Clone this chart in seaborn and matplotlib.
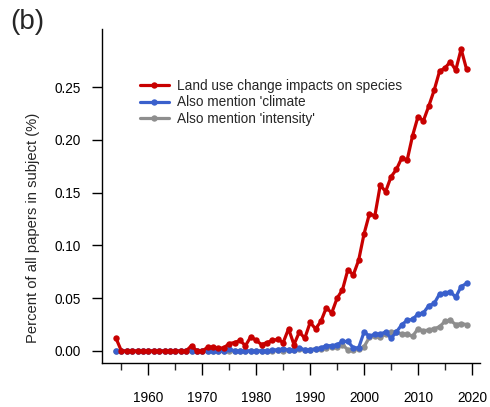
import matplotlib
matplotlib.use("Agg")
import matplotlib.pyplot as plt
import seaborn as sns
import pandas as pd
import numpy as np
from matplotlib.ticker import FixedLocator

years = list(range(1954, 2020))

land_use = [0.012, 0, 0, 0, 0, 0, 0, 0, 0, 0, 0, 0, 0, 0,
            0.005, 0.0, 0.0, 0.0035, 0.0035, 0.0025, 0.003, 0.007, 0.008, 0.010,
            0.005, 0.0135, 0.010, 0.006, 0.008, 0.010, 0.011, 0.008,
            0.021, 0.006, 0.018, 0.012, 0.027, 0.021, 0.028, 0.041, 0.036,
            0.050, 0.058, 0.077, 0.072, 0.086, 0.111, 0.130, 0.128, 0.157,
            0.151, 0.165, 0.172, 0.183, 0.181, 0.204, 0.222, 0.218, 0.232,
            0.247, 0.265, 0.268, 0.274, 0.266, 0.286, 0.267]

climate = [0, 0, 0, 0, 0, 0, 0, 0, 0, 0, 0, 0, 0, 0,
           0, 0, 0, 0, 0, 0, 0, 0.002, 0, 0, 0, 0, 0, 0, 0, 0.001,
           0.001, 0.002, 0.001, 0.001, 0.003, 0.001, 0.001, 0.002, 0.003,
           0.005, 0.005, 0.006, 0.009, 0.009, 0.003, 0.003,
           0.018, 0.014, 0.016, 0.016, 0.018, 0.012, 0.018, 0.025, 0.029,
           0.030, 0.035, 0.036, 0.043, 0.045, 0.054, 0.055, 0.056, 0.051,
           0.061, 0.064]

intensity = [0, 0, 0, 0, 0, 0, 0, 0, 0, 0, 0, 0, 0, 0,
             0, 0, 0, 0, 0, 0, 0, 0, 0, 0, 0, 0, 0, 0, 0, 0,
             0.001, 0.0, 0.001, 0.001, 0.002, 0.001, 0.001, 0.002, 0.002,
             0.003, 0.004, 0.004, 0.006, 0.001, 0.001, 0.002,
             0.004, 0.013, 0.014, 0.013, 0.016, 0.018, 0.018, 0.016, 0.016,
             0.014, 0.021, 0.019, 0.020, 0.021, 0.023, 0.028, 0.029, 0.025,
             0.026, 0.025]

labels = ["Land use change impacts on species", "Also mention 'climate",
          "Also mention 'intensity'"]
colors = ["#C80000", "#3A60CC", "#8E8E8E"]

sns.set_style("ticks")
plt.rcParams['font.family'] = ['Liberation Sans', 'DejaVu Sans']

fig = plt.figure(figsize=(4.9, 4.07), dpi=100)
ax = fig.add_axes([102/490, 1 - 363/407, 378/490, 334/407])

series = [land_use, climate, intensity]
for idx in [2, 1, 0]:
    df = pd.DataFrame({"year": years, "value": series[idx]})
    sns.lineplot(data=df, x="year", y="value", ax=ax, color=colors[idx],
                 lw=2.3, marker="o", markersize=4.6, markeredgewidth=0,
                 label=labels[idx], zorder=3 - idx)

ax.set_xlim(1951.4, 2021.5)
ax.set_ylim(-0.0114, 0.305)
ax.xaxis.set_major_locator(FixedLocator(list(range(1960, 2021, 10))))
ax.xaxis.set_minor_locator(FixedLocator(list(range(1955, 2020, 10))))
ax.set_yticks([0, 0.05, 0.10, 0.15, 0.20, 0.25])
ax.set_yticklabels(["0.00", "0.05", "0.10", "0.15", "0.20", "0.25"])

ax.tick_params(axis="x", which="major", direction="out", length=8.5, width=1,
               pad=12, labelsize=9.8, colors="black")
ax.tick_params(axis="x", which="minor", direction="out", length=5, width=1)
ax.tick_params(axis="y", which="major", direction="out", length=7, width=1,
               pad=8, labelsize=9.8, colors="black")

for s in ["top", "right"]:
    ax.spines[s].set_visible(False)
for s in ["left", "bottom"]:
    ax.spines[s].set_linewidth(1)
    ax.spines[s].set_color("black")

ax.set_xlabel("")
ax.set_ylabel("Percent of all papers in subject (%)", fontsize=10.6)
ax.yaxis.set_label_coords(-0.165, 0.405)

h, l = ax.get_legend_handles_labels()
order = [l.index(t) for t in labels]
ax.legend([h[i] for i in order], [l[i] for i in order], loc="upper left",
          bbox_to_anchor=((140 - 102) / 378, (363 - 79) / 334),
          frameon=False, borderpad=0, borderaxespad=0, handlelength=2.1,
          handletextpad=0.6, labelspacing=0.18, fontsize=9.8)

fig.text(10/490, 1 - 9/407, "(b)", fontsize=20, va="top", ha="left")

fig.savefig("out.png", dpi=100)
